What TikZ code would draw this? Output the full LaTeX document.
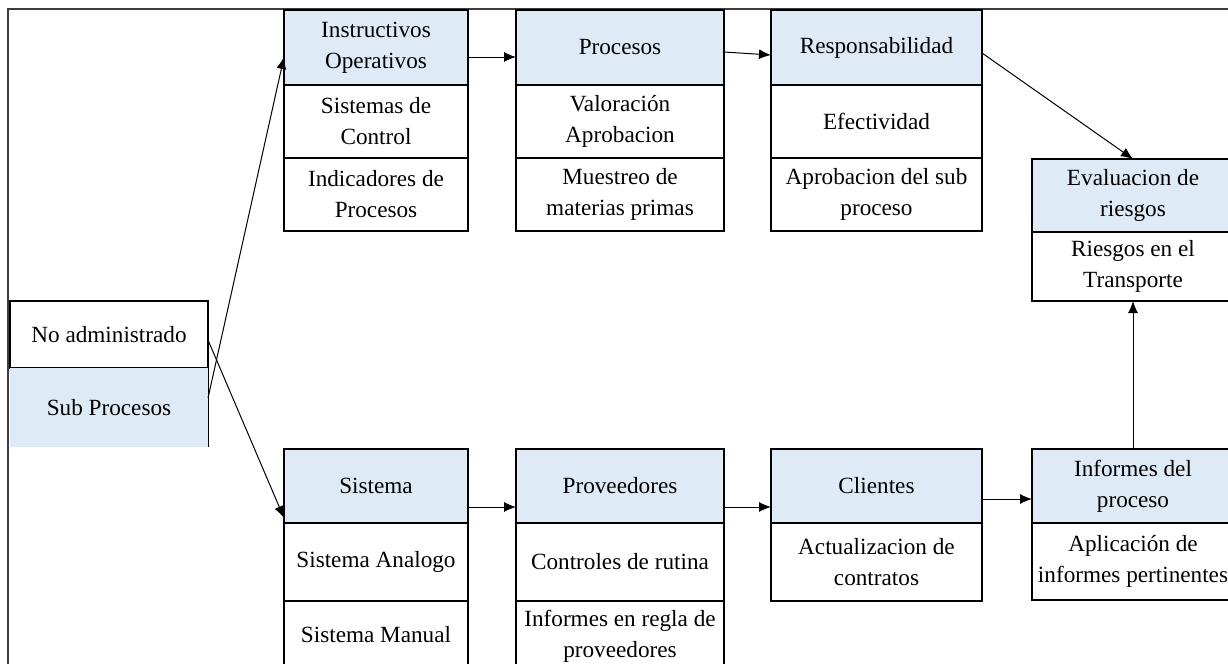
\documentclass[tikz,border=0pt]{standalone}
\usepackage{fontspec}
\setmainfont{Liberation Serif}
\usetikzlibrary{positioning, arrows.meta}
\definecolor{headblue}{RGB}{222,235,247}
\definecolor{framegray}{RGB}{60,60,60}

\begin{document}
\begin{tikzpicture}[x=0.5pt, y=-0.5pt,
        font=\fontsize{11.6pt}{15.5pt}\selectfont,
        head/.style={draw, line width=0.75pt, fill=headblue, align=center, inner sep=1pt, outer sep=0pt, minimum height=37.5pt},
        cell/.style={draw, line width=0.75pt, fill=white, align=center, inner sep=1pt, outer sep=0pt, minimum height=36.5pt},
        arrow/.style={-{Latex[length=6pt,width=5pt]}, line width=0.5pt}
    ]
        \clip (0,0) rectangle (1228,664);
        \draw[framegray, line width=0.75pt] (8,9) rectangle (1260,700);

        % left block
        \node[cell, minimum width=99pt, minimum height=33.5pt, anchor=north west] (noadm) at (10,301) {No administrado};
        \node[fill=headblue, align=center, outer sep=0pt, minimum width=99pt, minimum height=39.5pt, below=0pt of noadm] (subp) {Sub Procesos};
        \draw[line width=0.5pt] (subp.north east) -- (subp.south east);

        % top row
        \node[head, minimum width=92pt, anchor=north west] (instr) at (284,10) {Instructivos\\Operativos};
        \node[cell, minimum width=92pt, below=0pt of instr] (instrA) {Sistemas de\\Control};
        \node[cell, minimum width=92pt, below=0pt of instrA] (instrB) {Indicadores de\\Procesos};

        \node[head, minimum width=104pt, right=24pt of instr] (proc) {Procesos};
        \node[cell, minimum width=104pt, below=0pt of proc] (procA) {Valoración\\Aprobacion};
        \node[cell, minimum width=104pt, below=0pt of procA] (procB) {Muestreo de\\materias primas};

        \node[head, minimum width=105.5pt, right=23.5pt of proc] (resp) {Responsabilidad};
        \node[cell, minimum width=105.5pt, below=0pt of resp] (respA) {Efectividad};
        \node[cell, minimum width=105.5pt, below=0pt of respA] (respB) {Aprobacion del sub\\proceso};

        \node[head, minimum width=101pt, minimum height=36.5pt, anchor=north west] (eval) at (1032,159) {Evaluacion de\\riesgos};
        \node[cell, minimum width=101pt, minimum height=34.5pt, below=0pt of eval] (evalA) {Riesgos en el\\Transporte};

        % bottom row
        \node[head, minimum width=92pt, minimum height=37pt, anchor=north west] (sist) at (284,449) {Sistema};
        \node[cell, minimum width=92pt, minimum height=39pt, below=0pt of sist] (sistA) {Sistema Analogo};
        \node[cell, minimum width=92pt, minimum height=34pt, below=0pt of sistA] (sistB) {Sistema Manual};

        \node[head, minimum width=104pt, minimum height=37pt, right=24pt of sist] (prov) {Proveedores};
        \node[cell, minimum width=104pt, minimum height=39pt, below=0pt of prov] (provA) {Controles de rutina};
        \node[cell, minimum width=104pt, minimum height=35pt, below=0pt of provA] (provB) {Informes en regla de\\proveedores};

        \node[head, minimum width=105.5pt, minimum height=37pt, right=23.5pt of prov] (clie) {Clientes};
        \node[cell, minimum width=105.5pt, minimum height=39pt, below=0pt of clie] (clieA) {Actualizacion de\\contratos};

        \node[head, minimum width=101pt, minimum height=37pt, right=25pt of clie] (inf) {Informes del\\proceso};
        \node[cell, minimum width=101pt, minimum height=38.5pt, below=0pt of inf] (infA) {Aplicación de\\informes pertinentes};

        % connectors
        \draw[arrow] ([yshift=4.75pt]subp.east) -- ([yshift=-4.75pt]instr.west);
        \draw[arrow] ([yshift=-2.75pt]noadm.east) -- ([yshift=2.5pt]sist.south west);
        \draw[arrow] ([yshift=-4.75pt]instr.east) -- ([yshift=-4.75pt]proc.west);
        \draw[arrow] ([yshift=-2.25pt]proc.east) -- ([yshift=-3.75pt]resp.west);
        \draw[arrow] ([yshift=-2.75pt]resp.east) -- (eval.north);
        \draw[arrow] (inf.north) -- (evalA.south);
        \draw[arrow] ([yshift=-10.5pt]sist.east) -- ([yshift=-10.5pt]prov.west);
        \draw[arrow] ([yshift=-10.5pt]prov.east) -- ([yshift=-10.5pt]clie.west);
        \draw[arrow] ([yshift=-6.5pt]clie.east) -- ([yshift=-6.5pt]inf.west);
    \end{tikzpicture}
\end{document}
